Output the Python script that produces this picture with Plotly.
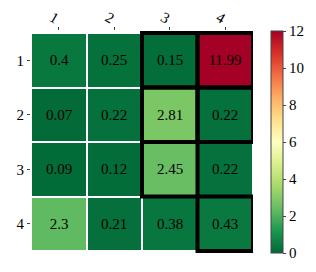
import plotly.graph_objects as go

x_labels = [1, 2, 3, 4]
y_labels = [1, 2, 3, 4]
values = [
    [0.4, 0.25, 0.15, 11.99],
    [0.07, 0.22, 2.81, 0.22],
    [0.09, 0.12, 2.45, 0.22],
    [2.3, 0.21, 0.38, 0.43],
]
highlight_cells = [(1, 3), (1, 4), (2, 3), (2, 4), (3, 3), (4, 4)]  # (row, col)

font_family = "Liberation Serif"

fig = go.Figure(go.Heatmap(
    z=values, x=x_labels, y=y_labels,
    colorscale="RdYlGn", reversescale=True, zmin=0, zmax=12,
    xgap=2, ygap=2,
    text=[[str(v) for v in row] for row in values],
    texttemplate="%{text}",
    textfont=dict(family=font_family, size=15, color="black"),
    colorbar=dict(
        thickness=12, len=1.0, lenmode="fraction", x=1.081, xanchor="left", xpad=0,
        y=0.5, yanchor="middle", ypad=0, outlinewidth=1, outlinecolor="#444",
        tickvals=[0, 2, 4, 6, 8, 10, 12], ticks="outside", ticklen=3,
        tickfont=dict(family=font_family, size=15, color="black"),
    ),
))

for r, c in highlight_cells:
    fig.add_shape(type="rect", xref="x", yref="y",
                  x0=c - 0.5, x1=c + 0.5, y0=r - 0.5, y1=r + 0.5,
                  line=dict(color="black", width=4))

fig.update_layout(
    width=308, height=264,
    margin=dict(l=23, r=63, t=23, b=19, autoexpand=False),
    paper_bgcolor="white", plot_bgcolor="white",
    font=dict(family=font_family, size=15, color="black"),
    showlegend=False,
)
fig.update_xaxes(side="top", tickvals=x_labels, ticks="outside", ticklen=3, tickangle=30,
                 ticklabelstandoff=-4,
                 showgrid=False, zeroline=False, range=[0.5, 4.5], automargin=False,
                 tickfont=dict(family=font_family, size=15))
fig.update_yaxes(autorange="reversed", tickvals=y_labels, ticks="outside", ticklen=3,
                 showgrid=False, zeroline=False, automargin=False,
                 tickfont=dict(family=font_family, size=15))

fig.write_html("out.html")
